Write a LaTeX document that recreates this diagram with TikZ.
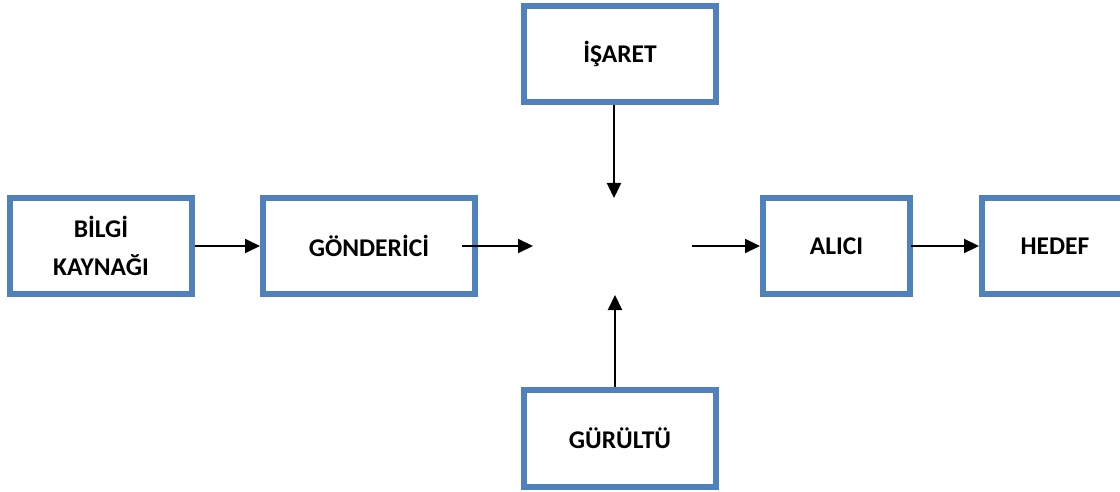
\documentclass[tikz,border=0pt]{standalone}
\usepackage{fontspec}
\setmainfont{Carlito}
\usepackage{tikz}
\usetikzlibrary{calc,arrows.meta,positioning}

\definecolor{boxblue}{HTML}{4F81BD}

\tikzset{
    stagebox/.style={draw=boxblue, line width=6pt, fill=white, align=center,
        font=\fontsize{25.5}{38}\selectfont\bfseries},
    flow/.style={line width=2pt, -{Triangle[length=15pt,width=14pt]}}
}

\begin{document}
\begin{tikzpicture}[x=1pt,y=-1pt]
    \useasboundingbox (0,0) rectangle (1120,492);

    % boxes
    \node[stagebox, minimum width=182pt, minimum height=96pt] (bilgi)  at (101,246)   {BİLGİ\\KAYNAĞI};
    \node[stagebox, minimum width=212pt, minimum height=96pt] (gonder) at (369,246)   {GÖNDERİCİ};
    \node[stagebox, minimum width=192pt, minimum height=96pt] (isaret) at (620,54)    {İŞARET};
    \node[stagebox, minimum width=192pt, minimum height=97pt] (gurultu) at (620,438.5) {GÜRÜLTÜ};
    \node[stagebox, minimum width=147pt, minimum height=96pt] (alici)  at (836.5,246) {ALICI};
    \node[stagebox, minimum width=146pt, minimum height=96pt] (hedef)  at (1055,246)  {HEDEF};

    % free ends round the channel
    \coordinate (kanal-w) at (533,246);
    \coordinate (kanal-e) at (692,246);
    \coordinate (kanal-n) at (614,198);
    \coordinate (kanal-s) at (615,295);

    \draw[flow] (bilgi.east) -- (gonder.west);
    \draw[flow] ([xshift=-16pt]gonder.east) -- (kanal-w);
    \draw[flow] ([xshift=-6pt]isaret.south) -- (kanal-n);
    \draw[flow] ([xshift=-5pt]gurultu.north) -- (kanal-s);
    \draw[flow] (kanal-e) -- (alici.west);
    \draw[flow] ([xshift=-2pt]alici.east) -- (hedef.west);
\end{tikzpicture}
\end{document}
